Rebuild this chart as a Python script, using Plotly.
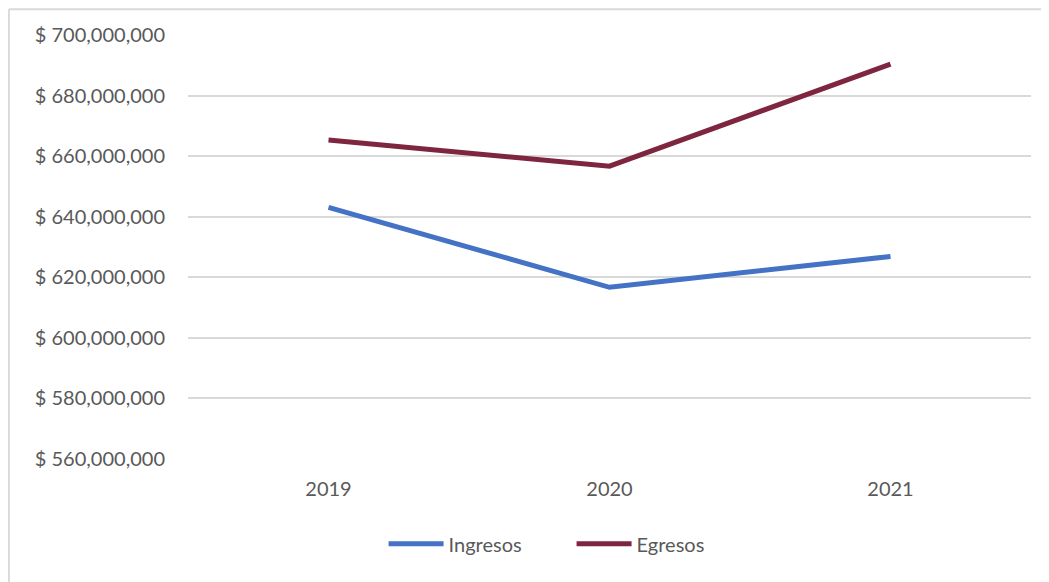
import plotly.graph_objects as go

years = ["2019", "2020", "2021"]
ingresos = [643100000, 616700000, 626900000]
egresos = [665300000, 656700000, 690400000]
tick_vals = [560000000, 580000000, 600000000, 620000000, 640000000, 660000000, 680000000, 700000000]
tick_text = ["$ {:,}".format(v) for v in tick_vals]

FONT = "Lato, Carlito, Calibri, sans-serif"

fig = go.Figure()
fig.add_trace(go.Scatter(x=years, y=ingresos, mode="lines", name="Ingresos",
                         line=dict(color="#4472C4", width=5)))
fig.add_trace(go.Scatter(x=years, y=egresos, mode="lines", name="Egresos",
                         line=dict(color="#7E2540", width=5)))

fig.update_layout(
    width=1041, height=574,
    margin=dict(l=180, r=18, t=27, b=123),
    paper_bgcolor="white", plot_bgcolor="white",
    font=dict(family=FONT, size=20, color="#595959"),
    showlegend=True,
    legend=dict(orientation="h", x=0.232, xanchor="left", y=-0.2, yanchor="middle",
                font=dict(size=20, color="#595959"), itemwidth=55, tracegroupgap=0,
                entrywidth=118, entrywidthmode="pixels"),
    xaxis=dict(type="category", range=[-0.5, 2.5], showgrid=False, showline=False,
               zeroline=False, ticks="", tickfont=dict(size=20, color="#595959")),
    yaxis=dict(range=[560000000, 700000000], tickvals=tick_vals, ticktext=tick_text,
               showgrid=True, gridcolor="#D9D9D9", gridwidth=2,
               zeroline=False, showline=False, ticks="", ticklen=0,
               tickfont=dict(size=20, color="#595959")),
    shapes=[
        dict(type="line", xref="paper", yref="paper", x0=-0.2125, x1=1.03, y0=1.061, y1=1.061,
             line=dict(color="#D9D9D9", width=2)),
        dict(type="line", xref="paper", yref="paper", x0=-0.2125, x1=-0.2125, y0=1.061, y1=-0.3,
             line=dict(color="#D9D9D9", width=2)),
    ],
)
fig.update_xaxes(ticklabelstandoff=16)
fig.update_yaxes(ticklabelstandoff=22)

fig.write_html("out.html")
